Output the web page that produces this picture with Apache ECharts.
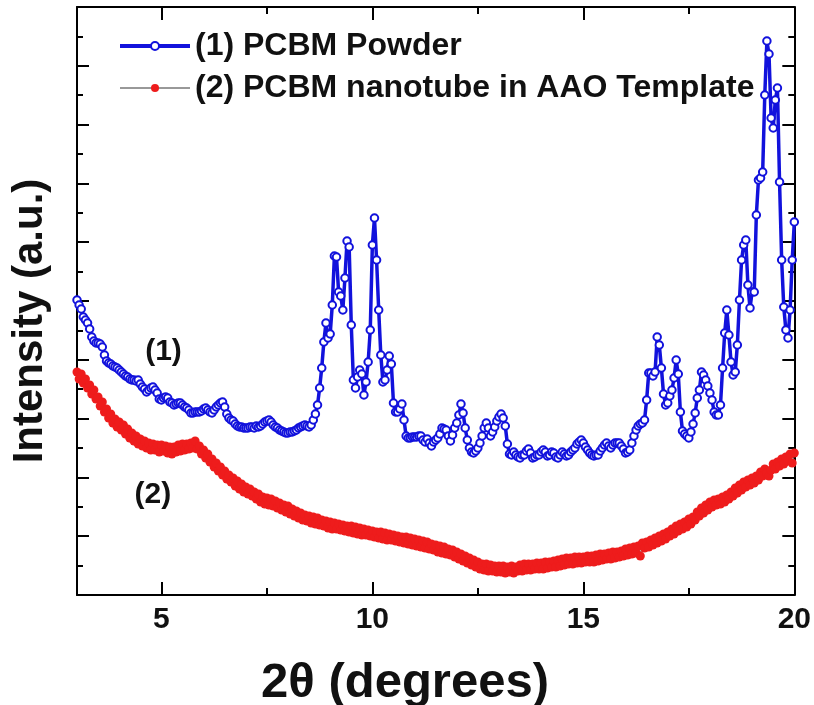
<!DOCTYPE html>
<html><head><meta charset="utf-8">
<script src="https://cdn.jsdelivr.net/npm/echarts@6/dist/echarts.min.js"></script>
<style>html,body{margin:0;padding:0;background:#fff}#c{width:814px;height:705px}</style>
</head><body><div id="c"></div>
<script>
const twoThetaStart = 3.0;
const twoThetaStep = 0.05;
const powder = [295,290,286,278,275,272,266,258,254,252,
252,251,248,240,234,232,231,229,228,227,
225,223,221,219,218,216,215,215,214,215,
211,208,206,203,205,207,208,205,202,196,
195,197,198,197,193,192,190,191,192,192,
190,188,187,185,182,182,183,183,183,184,
186,187,185,183,182,185,188,190,192,193,
188,181,177,175,174,171,169,168,168,167,
167,167,168,168,167,169,168,169,171,173,
174,175,173,170,168,167,165,164,163,162,
162,163,163,164,165,167,168,169,170,169,
168,170,175,181,190,207,227,253,272,257,
261,290,339,338,303,299,285,317,354,348,
270,215,207,218,225,221,200,213,233,265,
350,377,335,285,240,213,215,225,239,231,
192,183,183,186,191,175,159,157,157,158,
158,158,159,159,155,153,156,152,149,153,
155,157,161,167,166,165,159,154,160,167,
172,180,191,182,167,155,147,143,142,144,
147,152,159,167,172,167,159,163,168,174,
178,181,177,169,151,141,140,143,140,138,
137,140,140,144,146,142,137,138,140,140,
143,145,143,139,140,143,142,138,137,140,
143,141,139,140,143,145,147,151,153,155,
152,148,145,142,140,139,140,140,144,147,
150,152,149,147,150,152,152,152,149,146,
142,143,145,152,159,165,169,171,172,175,
195,222,222,219,223,258,250,227,201,190,
192,199,205,217,235,221,183,164,161,159,
157,163,171,182,197,205,223,220,215,209,
202,195,183,180,180,190,227,262,285,260,
233,220,223,250,295,335,350,355,310,287,
303,303,380,415,417,423,500,554,541,477,
467,495,507,413,335,288,265,257,285,335,
373];
const nanotube = [223,216,221,212,216,207,210,201,205,196,
198,189,193,183,186,177,181,172,176,168,
173,165,170,161,166,157,162,154,159,151,
156,149,154,147,152,145,151,145,150,143,
150,144,149,142,148,141,148,143,150,144,
151,145,151,146,152,147,154,146,149,141,
145,137,141,133,136,128,132,124,128,120,
124,116,120,113,117,109,114,106,111,103,
108,101,106,99,103,96,101,93,98,91,
97,90,96,89,94,87,92,85,90,83,
89,81,86,79,84,77,82,75,80,74,
79,72,78,71,77,70,75,69,74,67,
73,66,72,66,71,65,70,64,69,63,
69,62,68,61,67,60,66,60,65,59,
64,58,63,57,63,56,62,55,61,55,
60,54,59,53,58,52,58,51,57,50,
56,49,55,48,54,47,53,46,51,45,
50,43,49,42,48,41,46,40,45,38,
43,36,41,34,39,32,37,30,35,28,
33,26,31,25,31,24,30,24,29,23,
29,23,29,22,28,23,29,22,28,24,
30,24,31,25,31,25,31,26,32,26,
32,26,33,27,33,28,34,28,35,29,
36,30,37,31,37,31,38,32,38,32,
38,33,39,33,39,33,40,34,41,35,
41,36,42,36,43,37,43,38,44,39,
46,40,47,41,48,42,49,39,52,47,
53,48,55,50,57,52,59,54,61,56,
63,59,66,61,69,64,71,66,73,68,
76,71,78,75,83,79,87,82,90,85,
93,88,95,90,96,91,98,93,100,96,
103,99,107,102,110,105,113,108,115,110,
117,112,119,115,123,119,126,122,119,125,
131,126,133,129,136,131,138,134,141,132,142];
const xMajorTicks = [5, 10, 15, 20];
const xMinorTicks = [7.5, 12.5, 17.5];
const seriesNames = ['(1) PCBM Powder', '(2) PCBM nanotube in AAO Template'];
const curveLabels = [{text: '(1)', x: 5.05, y: 243}, {text: '(2)', x: 4.8, y: 100}];
const xTitle = '2θ (degrees)';
const yTitle = 'Intensity (a.u.)';

const FONT = '"Liberation Sans", Arial, sans-serif';
const BLUE = '#1212dc';
const RED = '#ee1c1c';
const toPairs = arr => arr.map((v, i) => [+(twoThetaStart + i * twoThetaStep).toFixed(2), v]);

const tickStyle = {color: '#000', width: 2};
function xAx(pos, ticks, len, main) {
  return {
    type: 'value', min: 3, max: 20, position: pos,
    axisLine: {show: main, onZero: false, lineStyle: {color: '#000', width: 2}},
    axisTick: {show: true, inside: true, length: len, customValues: ticks, lineStyle: tickStyle},
    axisLabel: main && pos === 'bottom'
      ? {show: true, customValues: xMajorTicks, fontSize: 30, fontWeight: 'bold', fontFamily: FONT, color: '#111', margin: 10}
      : {show: false},
    splitLine: {show: false}
  };
}
function yAx(pos) {
  return {
    type: 'value', min: 0, max: 588, interval: 58.8, position: pos,
    axisLine: {show: true, onZero: false, lineStyle: {color: '#000', width: 2}},
    axisTick: {show: true, inside: true, length: 12, lineStyle: tickStyle},
    minorTick: {show: true, splitNumber: 2, length: 6, lineStyle: tickStyle},
    axisLabel: {show: false},
    splitLine: {show: false}
  };
}

const chart = echarts.init(document.getElementById('c'), null, {renderer: 'canvas'});
chart.setOption({
  animation: false,
  backgroundColor: '#fff',
  grid: {left: 77, right: 19, top: 7, bottom: 110},
  xAxis: [xAx('bottom', xMajorTicks, 13, true), xAx('top', xMajorTicks, 13, true),
          xAx('bottom', xMinorTicks, 7, false), xAx('top', xMinorTicks, 7, false)],
  yAxis: [yAx('left'), yAx('right')],
  legend: {
    orient: 'vertical', left: 113, top: 25, itemWidth: 70, itemHeight: 10, itemGap: 10,
    textStyle: {fontSize: 32, fontWeight: 'bold', fontFamily: FONT, color: '#111'},
    data: [
      {name: seriesNames[0], lineStyle: {width: 4, color: BLUE}},
      {name: seriesNames[1], lineStyle: {width: 1, color: '#333'}}
    ]
  },
  graphic: [{
    type: 'text', x: 30, y: 321, rotation: Math.PI / 2,
    style: {text: yTitle, font: 'bold 42px ' + FONT, fill: '#111', textAlign: 'center', textVerticalAlign: 'middle'}
  }, {
    type: 'text', x: 405, y: 683,
    style: {text: xTitle, font: 'bold 49px ' + FONT, fill: '#111', textAlign: 'center', textVerticalAlign: 'middle'}
  }],
  series: [
    {
      name: seriesNames[0], type: 'line', xAxisIndex: 0, yAxisIndex: 0, z: 3,
      data: toPairs(powder),
      symbol: 'emptyCircle', symbolSize: 7.5, showSymbol: true,
      lineStyle: {color: BLUE, width: 3.5},
      itemStyle: {color: BLUE, borderWidth: 2},
      markPoint: {
        symbol: 'circle', symbolSize: 0,
        label: {show: true, position: 'inside', fontSize: 30, fontWeight: 'bold', fontFamily: FONT, color: '#111'},
        data: [{coord: [curveLabels[0].x, curveLabels[0].y], value: curveLabels[0].text}]
      }
    },
    {
      name: seriesNames[1], type: 'line', xAxisIndex: 0, yAxisIndex: 0, z: 2,
      data: toPairs(nanotube),
      symbol: 'circle', symbolSize: 9, showSymbol: true,
      lineStyle: {color: '#333', width: 1},
      itemStyle: {color: RED},
      markPoint: {
        symbol: 'circle', symbolSize: 0,
        label: {show: true, position: 'inside', fontSize: 30, fontWeight: 'bold', fontFamily: FONT, color: '#111'},
        data: [{coord: [curveLabels[1].x, curveLabels[1].y], value: curveLabels[1].text}]
      }
    }
  ]
});
</script></body></html>
